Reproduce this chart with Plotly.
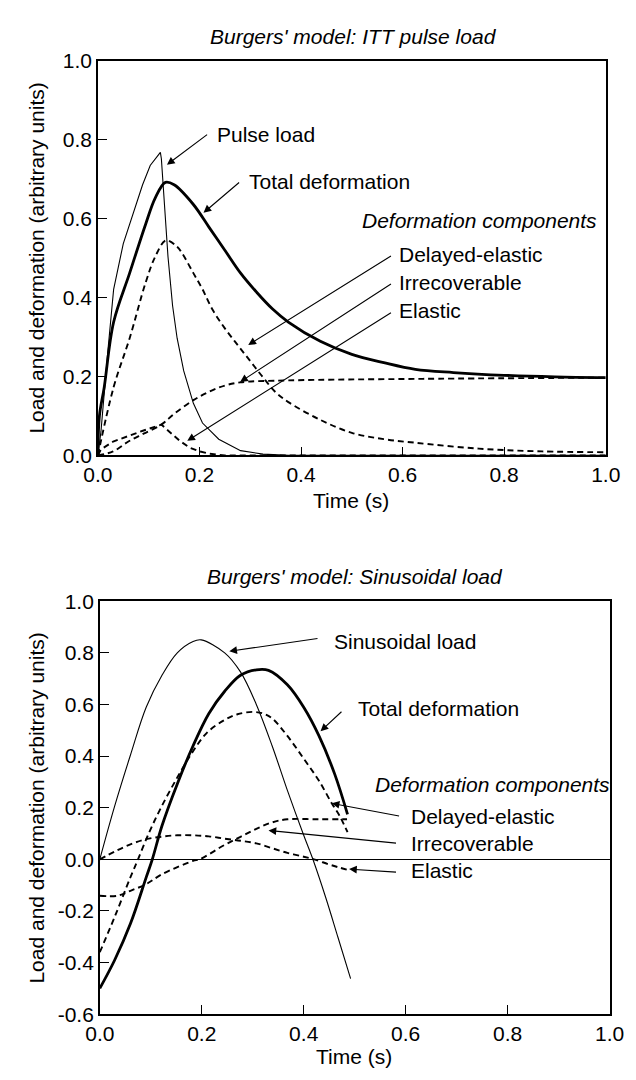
import plotly.graph_objects as go

# ---------------- data: ITT pulse load (top) ----------------
itt_pulse_t = [0, 0.006, 0.019, 0.031, 0.05, 0.069, 0.088, 0.103, 0.113, 0.123, 0.125, 0.131, 0.138,
               0.147, 0.156, 0.169, 0.188, 0.206, 0.238, 0.281, 0.325, 0.375, 1.0]
itt_pulse_v = [0, 0.06, 0.256, 0.421, 0.537, 0.611, 0.686, 0.735, 0.752, 0.768, 0.752, 0.628, 0.504,
               0.38, 0.297, 0.214, 0.132, 0.082, 0.041, 0.012, 0.003, 0.0, 0.0]

itt_total_t = [0, 0.003, 0.0125, 0.031, 0.0625, 0.094, 0.113, 0.133, 0.15, 0.188, 0.219, 0.25, 0.281,
               0.313, 0.344, 0.375, 0.438, 0.5, 0.563, 0.625, 0.7, 0.8, 0.9, 1.0]
itt_total_v = [0, 0.1, 0.173, 0.338, 0.462, 0.586, 0.653, 0.692, 0.686, 0.636, 0.578, 0.52, 0.462,
               0.413, 0.371, 0.338, 0.289, 0.256, 0.235, 0.218, 0.21, 0.203, 0.199, 0.197]

itt_delayed_t = [0, 0.031, 0.0625, 0.094, 0.113, 0.134, 0.156, 0.166, 0.188, 0.206, 0.225, 0.25, 0.275,
                 0.3, 0.325, 0.35, 0.375, 0.438, 0.5, 0.563, 0.625, 0.75, 0.875, 1.0]
itt_delayed_v = [0, 0.173, 0.297, 0.438, 0.504, 0.545, 0.529, 0.512, 0.462, 0.421, 0.371, 0.322, 0.28,
                 0.239, 0.198, 0.16, 0.135, 0.09, 0.057, 0.041, 0.032, 0.017, 0.01, 0.008]

itt_irrec_t = [0, 0.03, 0.06, 0.09, 0.125, 0.15, 0.188, 0.22, 0.25, 0.28, 0.375, 0.64, 1.0]
itt_irrec_v = [0, 0.01, 0.035, 0.055, 0.078, 0.105, 0.14, 0.162, 0.177, 0.185, 0.19, 0.194, 0.197]

itt_elastic_t = [0, 0.006, 0.03, 0.06, 0.09, 0.125, 0.14, 0.16, 0.18, 0.2, 0.22, 0.25, 1.0]
itt_elastic_v = [0, 0.015, 0.035, 0.05, 0.063, 0.078, 0.06, 0.038, 0.02, 0.01, 0.004, 0.0, 0.0]

# ---------------- data: sinusoidal load (bottom) ----------------
sin_load_t = [0, 0.029, 0.06, 0.091, 0.122, 0.152, 0.183, 0.199, 0.245, 0.276, 0.307, 0.338, 0.368,
              0.4, 0.418, 0.443, 0.467, 0.492]
sin_load_v = [0, 0.205, 0.403, 0.589, 0.713, 0.80, 0.844, 0.85, 0.80, 0.726, 0.60, 0.44, 0.267,
              0.093, 0.0, -0.147, -0.301, -0.462]

sin_total_t = [0, 0.029, 0.06, 0.091, 0.103, 0.122, 0.152, 0.183, 0.214, 0.245, 0.276, 0.307, 0.331,
               0.368, 0.4, 0.43, 0.461, 0.486]
sin_total_v = [-0.5, -0.391, -0.25, -0.07, 0.0, 0.13, 0.292, 0.44, 0.565, 0.651, 0.713, 0.734, 0.732,
               0.676, 0.589, 0.478, 0.329, 0.174]

sin_delayed_t = [0, 0.029, 0.06, 0.075, 0.097, 0.12, 0.15, 0.18, 0.21, 0.245, 0.27, 0.30, 0.32, 0.338,
                 0.368, 0.40, 0.43, 0.455, 0.47, 0.486]
sin_delayed_v = [-0.36, -0.224, -0.07, 0.0, 0.105, 0.2, 0.31, 0.41, 0.49, 0.54, 0.562, 0.571, 0.565,
                 0.546, 0.478, 0.39, 0.304, 0.217, 0.17, 0.105]

sin_irrec_t = [0, 0.035, 0.06, 0.091, 0.122, 0.183, 0.196, 0.245, 0.276, 0.307, 0.338, 0.368, 0.43, 0.485]
sin_irrec_v = [-0.141, -0.141, -0.122, -0.096, -0.058, -0.006, 0.0, 0.056, 0.087, 0.118, 0.143, 0.155,
               0.155, 0.155]

sin_elastic_t = [0, 0.029, 0.06, 0.091, 0.122, 0.152, 0.183, 0.214, 0.245, 0.276, 0.307, 0.338, 0.368,
                 0.4, 0.42, 0.45, 0.47, 0.488]
sin_elastic_v = [0, 0.03, 0.058, 0.078, 0.088, 0.093, 0.093, 0.089, 0.08, 0.072, 0.062, 0.043, 0.025,
                 0.01, 0.0, -0.02, -0.032, -0.042]

x_tickvals = [0, 0.2, 0.4, 0.6, 0.8, 1.0]
x_ticktext = ["0.0", "0.2", "0.4", "0.6", "0.8", "1.0"]
top_y_tickvals = [0, 0.2, 0.4, 0.6, 0.8, 1.0]
top_y_ticktext = ["0.0", "0.2", "0.4", "0.6", "0.8", "1.0"]
bot_y_tickvals = [-0.6, -0.4, -0.2, 0, 0.2, 0.4, 0.6, 0.8, 1.0]
bot_y_ticktext = ["-0.6", "-0.4", "-0.2", "0.0", "0.2", "0.4", "0.6", "0.8", "1.0"]

# ---------------- figure ----------------
W, H = 636, 1080
FONT = "Liberation Sans, Arial, Helvetica, sans-serif"
FS = 21

fig = go.Figure()

thin = dict(color="black", width=1.1)
thick = dict(color="black", width=2.8)
dashed = dict(color="black", width=1.9, dash="6px,4px")

def add(t, v, line, xa, ya, shape="spline"):
    fig.add_trace(go.Scatter(x=t, y=v, mode="lines", line=dict(**line, shape=shape),
                             xaxis=xa, yaxis=ya, showlegend=False, hoverinfo="skip"))

add(itt_pulse_t, itt_pulse_v, thin, "x", "y", shape="linear")
add(itt_total_t, itt_total_v, thick, "x", "y")
add(itt_delayed_t, itt_delayed_v, dashed, "x", "y")
add(itt_irrec_t, itt_irrec_v, dashed, "x", "y")
add(itt_elastic_t, itt_elastic_v, dashed, "x", "y", shape="linear")

add(sin_load_t, sin_load_v, thin, "x2", "y2")
add(sin_total_t, sin_total_v, thick, "x2", "y2")
add(sin_delayed_t, sin_delayed_v, dashed, "x2", "y2")
add(sin_irrec_t, sin_irrec_v, dashed, "x2", "y2")
add(sin_elastic_t, sin_elastic_v, dashed, "x2", "y2")

def px_x(p):
    return p / W

def px_y(p):
    return 1 - p / H

axis_common = dict(showgrid=False, showline=True, linecolor="black", linewidth=1.5, mirror=True,
                   ticks="inside", ticklen=9, tickwidth=1.2, tickcolor="black",
                   tickfont=dict(family=FONT, size=FS, color="black"))

fig.update_layout(
    width=W, height=H, margin=dict(l=0, r=0, t=0, b=0),
    paper_bgcolor="white", plot_bgcolor="white",
    font=dict(family=FONT, size=FS, color="black"),
    xaxis=dict(domain=[px_x(87), px_x(620)], range=[0, 1], anchor="y",
               tickvals=x_tickvals, ticktext=x_ticktext, zeroline=False, **axis_common),
    yaxis=dict(domain=[px_y(453), px_y(50)], range=[0, 1], anchor="x",
               tickvals=top_y_tickvals, ticktext=top_y_ticktext, zeroline=False, **axis_common),
    xaxis2=dict(domain=[px_x(89), px_x(624)], range=[0, 1], anchor="y2",
                tickvals=x_tickvals, ticktext=x_ticktext, zeroline=False, **axis_common),
    yaxis2=dict(domain=[px_y(1024), px_y(602)], range=[-0.6, 1.0], anchor="x2",
                tickvals=bot_y_tickvals, ticktext=bot_y_ticktext, zeroline=True,
                zerolinecolor="black", zerolinewidth=1.2, **axis_common),
)

ann = []

def text(x, y, s, xref, yref, xanchor="left", yanchor="middle", angle=0):
    ann.append(dict(x=x, y=y, xref=xref, yref=yref, text=s, showarrow=False,
                    xanchor=xanchor, yanchor=yanchor, textangle=angle,
                    font=dict(family=FONT, size=FS, color="black")))

def arrow(tail, head, xref, yref):
    ann.append(dict(x=head[0], y=head[1], ax=tail[0], ay=tail[1], xref=xref, yref=yref,
                    axref=xref, ayref=yref, text="", showarrow=True, arrowhead=2,
                    arrowsize=1.4, arrowwidth=1.1, arrowcolor="black", standoff=0, startstandoff=0))

# titles and axis titles
text(px_x(355), px_y(25), "<i>Burgers' model: ITT pulse load</i>", "paper", "paper", xanchor="center")
text(px_x(357), px_y(577), "<i>Burgers' model: Sinusoidal load</i>", "paper", "paper", xanchor="center")
text(px_x(353), px_y(499), "Time (s)", "paper", "paper", xanchor="center")
text(px_x(356), px_y(1067), "Time (s)", "paper", "paper", xanchor="center")
text(px_x(23), px_y(251), "Load and deformation (arbitrary units)", "paper", "paper",
     xanchor="center", angle=-90)
text(px_x(23), px_y(813), "Load and deformation (arbitrary units)", "paper", "paper",
     xanchor="center", angle=-90)

# top chart labels
text(0.231, 0.814, "Pulse load", "x", "y")
text(0.293, 0.695, "Total deformation", "x", "y")
text(0.516, 0.595, "<i>Deformation components</i>", "x", "y")
text(0.589, 0.508, "Delayed-elastic", "x", "y")
text(0.589, 0.437, "Irrecoverable", "x", "y")
text(0.589, 0.367, "Elastic", "x", "y")
arrow((0.218, 0.816), (0.136, 0.737), "x", "y")
arrow((0.281, 0.695), (0.208, 0.615), "x", "y")
arrow((0.58, 0.508), (0.296, 0.28), "x", "y")
arrow((0.58, 0.437), (0.28, 0.186), "x", "y")
arrow((0.58, 0.364), (0.176, 0.037), "x", "y")

# bottom chart labels
text(0.456, 0.845, "Sinusoidal load", "x2", "y2")
text(0.503, 0.583, "Total deformation", "x2", "y2")
text(0.535, 0.29, "<i>Deformation components</i>", "x2", "y2")
text(0.606, 0.167, "Delayed-elastic", "x2", "y2")
text(0.606, 0.06, "Irrecoverable", "x2", "y2")
text(0.606, -0.045, "Elastic", "x2", "y2")
arrow((0.43, 0.856), (0.254, 0.806), "x2", "y2")
arrow((0.477, 0.577), (0.433, 0.496), "x2", "y2")
arrow((0.59, 0.167), (0.455, 0.217), "x2", "y2")
arrow((0.584, 0.062), (0.331, 0.112), "x2", "y2")
arrow((0.584, -0.05), (0.489, -0.038), "x2", "y2")

fig.update_layout(annotations=ann)

fig.write_html("out.html")
